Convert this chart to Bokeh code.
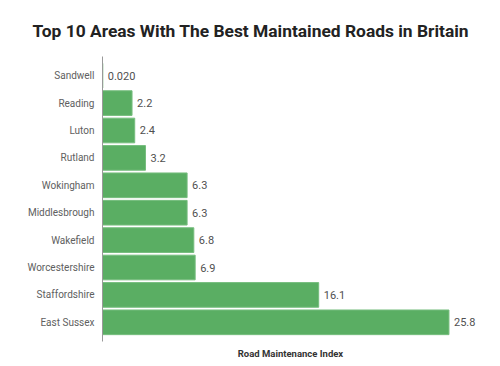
from bokeh.plotting import figure
from bokeh.models import ColumnDataSource, Range1d, FactorRange, LinearAxis, Title
from bokeh.core.properties import value
from bokeh.embed import file_html
from bokeh.resources import INLINE

areas = ["Sandwell", "Reading", "Luton", "Rutland", "Wokingham", "Middlesbrough",
         "Wakefield", "Worcestershire", "Staffordshire", "East Sussex"]
index_values = [0.02, 2.2, 2.4, 3.2, 6.3, 6.3, 6.8, 6.9, 16.1, 25.8]
value_labels = ["0.020", "2.2", "2.4", "3.2", "6.3", "6.3", "6.8", "6.9", "16.1", "25.8"]

title_text = "Top 10 Areas With The Best Maintained Roads in Britain"
x_label = "Road Maintenance Index"

factors = list(reversed(areas))
src = ColumnDataSource(dict(area=areas, val=index_values, lab=value_labels))

p = figure(width=492, height=361, output_backend="svg", toolbar_location=None,
           y_range=FactorRange(factors=factors, range_padding=0.2, range_padding_units="absolute"),
           x_range=Range1d(0, 28.0), x_axis_location=None,
           min_border_left=102, min_border_right=14, min_border_top=56, min_border_bottom=0)
p.outline_line_color = None
p.grid.visible = False

p.hbar(y="area", right="val", left=0, height=0.9, source=src,
       fill_color="#5aae63", line_color="#76bd7e", line_width=1)
p.text(x="val", y="area", text="lab", source=src, x_offset=5,
       text_baseline="middle", text_align="left", text_color="#505050",
       text_font=value("Roboto"), text_font_size="11px")

ya = p.yaxis[0]
ya.axis_line_color = "#999999"
ya.major_tick_line_color = None
ya.minor_tick_line_color = None
ya.major_label_text_color = "#606060"
ya.major_label_text_font = "Roboto"
ya.major_label_text_font_size = "10px"
ya.major_label_standoff = 2

xa = LinearAxis(axis_label=x_label)
xa.axis_line_color = None
xa.major_tick_line_color = None
xa.minor_tick_line_color = None
xa.major_label_text_font_size = "0px"
xa.major_label_text_color = None
xa.axis_label_text_font = "Roboto"
xa.axis_label_text_font_style = "bold"
xa.axis_label_text_font_size = "9.5px"
xa.axis_label_text_color = "#333333"
xa.axis_label_standoff = 0
p.add_layout(xa, "below")

t = Title(text=title_text, align="left", offset=-70, text_font="Roboto",
          text_font_style="bold", text_font_size="17.4px", text_color="#222222",
          standoff=31)
p.add_layout(t, "above")

open("out.html", "w").write(file_html(p, INLINE))
